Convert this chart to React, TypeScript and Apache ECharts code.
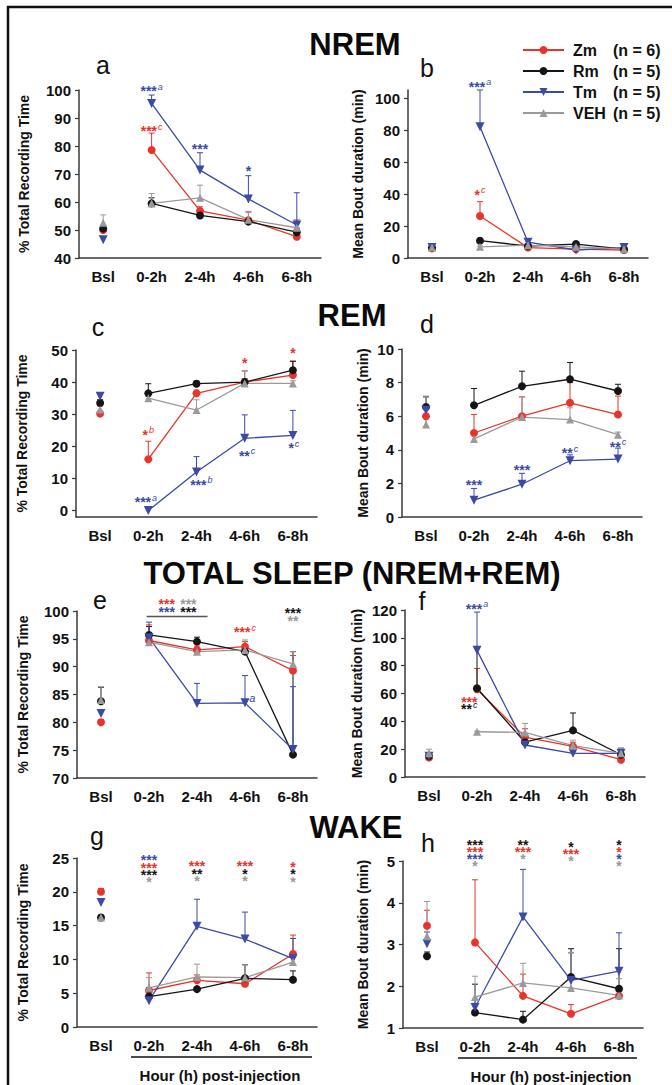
import React, { useEffect, useRef } from 'react';
import * as echarts from 'echarts';

const categories = ['Bsl', '0-2h', '2-4h', '4-6h', '6-8h'];
const groups = ['Zm', 'Rm', 'Tm', 'VEH'];
const groupN = ['(n = 6)', '(n = 5)', '(n = 5)', '(n = 5)'];

// rows: Zm, Rm, Tm, VEH ; columns: Bsl, 0-2h, 2-4h, 4-6h, 6-8h
// a: NREM % total recording time
const nremPctMeans = [
  [50, 78.6, 56.8, 53.5, 47.6],
  [50.5, 59.5, 55.2, 53, 49.2],
  [46.5, 95.2, 71.4, 61.1, 51.8],
  [52.6, 59.5, 61.5, 53.7, 50.8],
];
const nremPctSem = [
  [0.5, 6, 1.5, 3, 6],
  [1, 2, 1, 1, 1.5],
  [1, 3, 6.2, 8.3, 11.5],
  [2.8, 3.5, 4.5, 2.5, 1.5],
];
const nremPctTicks = [40, 50, 60, 70, 80, 90, 100];
// [category, offset (bands), value, stacked lines of [text, group, superscript]]
const nremPctMarks = [
  [1, 0, 100.7, [['***', 2, 'a']]],
  [1, 0, 86.4, [['***', 0, 'c']]],
  [2, 0, 80, [['***', 2, '']]],
  [3, 0, 72, [['*', 2, '']]],
];

// b: NREM mean bout duration
const nremBoutMeans = [
  [6, 26.2, 6.5, 5.5, 5],
  [6.5, 10.8, 7.5, 8.7, 5.5],
  [6.5, 82, 9.9, 5, 6.5],
  [6.5, 7, 8, 7, 5.5],
];
const nremBoutSem = [
  [0.5, 9, 1, 0.5, 0.5],
  [0.5, 1, 1, 1, 0.5],
  [0.5, 23, 1, 0.5, 0.5],
  [0.5, 0.5, 1, 0.5, 0.5],
];
const nremBoutTicks = [0, 20, 40, 60, 80, 100];
const nremBoutMarks = [
  [1, 0, 109, [['***', 2, 'a']]],
  [1, 0, 41.5, [['*', 0, 'c']]],
];

// c: REM % total recording time
const remPctMeans = [
  [30.2, 16, 36.5, 40, 42.2],
  [33.5, 36.5, 39.5, 40, 43.7],
  [35.6, 0, 12, 22.5, 23.4],
  [31.5, 35, 31.3, 39.6, 39.6],
];
const remPctSem = [
  [0.5, 5.6, 1, 3.5, 4.3],
  [1, 3, 0.8, 1, 2.8],
  [1, 0, 4.8, 7.3, 7.8],
  [1, 0.5, 3.2, 3.8, 0.8],
];
const remPctTicks = [0, 10, 20, 30, 40, 50];
const remPctMarks = [
  [1, 0, 24.5, [['*', 0, 'b']]],
  [1, -0.05, 3.5, [['***', 2, 'a']]],
  [2, 0.1, 9, [['***', 2, 'b']]],
  [3, 0.05, 18, [['**', 2, 'c']]],
  [4, 0.02, 20.3, [['*', 2, 'c']]],
  [3, 0, 47, [['*', 0, '']]],
  [4, 0, 50, [['*', 0, '']]],
];

// d: REM mean bout duration
const remBoutMeans = [
  [6.0, 5.0, 6.0, 6.8, 6.1],
  [6.55, 6.65, 7.78, 8.2, 7.5],
  [6.35, 1.0, 1.95, 3.35, 3.45],
  [5.5, 4.65, 5.95, 5.8, 4.9],
];
const remBoutSem = [
  [0.5, 1.1, 1.15, 1.2, 1.1],
  [0.6, 1.0, 0.9, 1.0, 0.4],
  [0.3, 0.7, 0.65, 0.35, 0.65],
  [1.7, 0.2, 1.2, 0.7, 0.15],
];
const remBoutTicks = [0, 2, 4, 6, 8, 10];
const remBoutMarks = [
  [1, 0, 2.1, [['***', 2, '']]],
  [2, 0, 2.95, [['***', 2, '']]],
  [3, 0, 3.97, [['**', 2, 'c']]],
  [4, 0, 4.36, [['**', 2, 'c']]],
];

// e: total sleep % total recording time
const sleepPctMeans = [
  [80, 94.7, 93, 93.6, 89.3],
  [83.8, 95.7, 94.5, 92.7, 74.2],
  [81.6, 95.2, 83.4, 83.5, 75.1],
  [84, 94.4, 92.7, 93, 90.5],
];
const sleepPctSem = [
  [0.5, 2.8, 0.7, 0.9, 2.7],
  [2.5, 1.5, 0.8, 1.0, 18.5],
  [0.5, 2.8, 3.6, 4.9, 11.3],
  [2.4, 1.5, 0.5, 1.8, 2.2],
];
const sleepPctTicks = [70, 75, 80, 85, 90, 95, 100];
const sleepPctMarks = [
  [1, 0.37, 101.8, [['***', 0, ''], ['***', 2, '']]],
  [1, 0.82, 101.8, [['***', 3, ''], ['***', 1, '']]],
  [3, 0, 96.7, [['***', 0, 'c']]],
  [4, 0, 100.2, [['***', 1, ''], ['**', 3, '']]],
  [3, 0.15, 85, [['', 2, 'a']]],
];
// [start category, start offset, end category, end offset, value]
const sleepPctBracket = [1, -0.05, 2, 0.22, 99];

// f: total sleep mean bout duration
const sleepBoutMeans = [
  [14, 63, 28.7, 22, 12.4],
  [15, 63.8, 25, 33.5, 16],
  [15, 91, 23, 17, 17],
  [17, 32.5, 32, 22.5, 17],
];
const sleepBoutSem = [
  [1, 15, 6, 3, 1.5],
  [2, 30, 3, 12.5, 4],
  [1, 27.5, 2, 2, 2],
  [3, 0.5, 6.5, 4, 4],
];
const sleepBoutTicks = [0, 20, 40, 60, 80, 100, 120];
const sleepBoutMarks = [
  [1, 0, 123, [['***', 2, 'a']]],
  [1, -0.16, 55.7, [['***', 0, ''], ['**', 1, 'c']]],
];

// g: wake % total recording time
const wakePctMeans = [
  [20, 5.4, 6.9, 6.4, 10.8],
  [16.2, 4.5, 5.6, 7.2, 7.0],
  [18.4, 3.9, 14.9, 13, 10.1],
  [16.2, 5.8, 7.4, 7.3, 9.6],
];
const wakePctSem = [
  [0.5, 2.6, 0.8, 0.5, 2.8],
  [0.3, 1.3, 0.3, 2, 1.3],
  [0.5, 0.5, 4, 4, 3],
  [0.4, 1.5, 1.9, 1.9, 1],
];
const wakePctTicks = [0, 5, 10, 15, 20, 25];
const wakePctMarks = [
  [1, 0, 25.1, [['***', 2, ''], ['***', 0, ''], ['***', 1, ''], ['*', 3, '']]],
  [2, 0, 24.2, [['***', 0, ''], ['**', 1, ''], ['*', 3, '']]],
  [3, 0, 24.2, [['***', 0, ''], ['*', 1, ''], ['*', 3, '']]],
  [4, 0, 24.1, [['*', 0, ''], ['*', 1, ''], ['*', 3, '']]],
];

// h: wake mean bout duration
const wakeBoutMeans = [
  [3.45, 3.05, 1.77, 1.34, 1.77],
  [2.72, 1.37, 1.2, 2.22, 1.94],
  [3.02, 1.49, 3.66, 2.14, 2.36],
  [3.2, 1.74, 2.08, 1.96, 1.78],
];
const wakeBoutSem = [
  [0.37, 1.5, 0.52, 0.22, 0.1],
  [0.1, 0.68, 0.2, 0.68, 0.96],
  [0.28, 0.1, 1.14, 0.66, 0.92],
  [0.83, 0.5, 0.47, 0.85, 0.4],
];
const wakeBoutTicks = [1, 2, 3, 4, 5];
const wakeBoutMarks = [
  [1, 0, 5.45, [['***', 1, ''], ['***', 0, ''], ['***', 2, ''], ['*', 3, '']]],
  [2, 0, 5.45, [['**', 1, ''], ['***', 0, ''], ['*', 3, '']]],
  [3, 0, 5.41, [['*', 1, ''], ['***', 0, ''], ['*', 3, '']]],
  [4, 0, 5.45, [['*', 1, ''], ['*', 0, ''], ['*', 2, ''], ['*', 3, '']]],
];

const sectionTitles = ['NREM', 'REM', 'TOTAL SLEEP (NREM+REM)', 'WAKE'];
const pctName = '% Total Recording Time';
const boutName = 'Mean Bout duration (min)';
const xAxisTitle = 'Hour (h) post-injection';

const FONT = '"Liberation Sans", Arial, Helvetica, sans-serif';
const colors = ['#e8342a', '#151515', '#3a4aa6', '#9a9a9a'];
const symbols = ['circle', 'circle', 'triangle', 'triangle'];
const symbolSizes = [8, 8, 9, 8];
const symbolRotates = [0, 0, 180, 0];

const panels = [
  { letter: 'a', means: nremPctMeans, sem: nremPctSem, ticks: nremPctTicks, marks: nremPctMarks, name: pctName, left: 79, top: 90, width: 242, height: 168, min: 40, max: 100, gap: 48, lx: 103, ly: 65, mgap: 10 },
  { letter: 'b', means: nremBoutMeans, sem: nremBoutSem, ticks: nremBoutTicks, marks: nremBoutMarks, name: boutName, left: 408, top: 90, width: 240, height: 168, min: 0, max: 105, gap: 43, lx: 427, ly: 68, mgap: 10 },
  { letter: 'c', means: remPctMeans, sem: remPctSem, ticks: remPctTicks, marks: remPctMarks, name: pctName, left: 76, top: 350, width: 241, height: 167, min: -2, max: 50, gap: 47, lx: 98, ly: 327, mgap: 10 },
  { letter: 'd', means: remBoutMeans, sem: remBoutSem, ticks: remBoutTicks, marks: remBoutMarks, name: boutName, left: 402, top: 349, width: 240, height: 168, min: 0, max: 10, gap: 32, lx: 427, ly: 324, mgap: 10 },
  { letter: 'e', means: sleepPctMeans, sem: sleepPctSem, ticks: sleepPctTicks, marks: sleepPctMarks, name: pctName, left: 77, top: 611, width: 240, height: 167, min: 70, max: 100, gap: 47, lx: 100, ly: 600, mgap: 8.5 },
  { letter: 'f', means: sleepBoutMeans, sem: sleepBoutSem, ticks: sleepBoutTicks, marks: sleepBoutMarks, name: boutName, left: 405, top: 610, width: 240, height: 167, min: 0, max: 120, gap: 41, lx: 422, ly: 601, mgap: 7 },
  { letter: 'g', means: wakePctMeans, sem: wakePctSem, ticks: wakePctTicks, marks: wakePctMarks, name: pctName, left: 77, top: 858, width: 240, height: 169, min: 0, max: 25, gap: 47, lx: 97, ly: 836, mgap: 7.3 },
  { letter: 'h', means: wakeBoutMeans, sem: wakeBoutSem, ticks: wakeBoutTicks, marks: wakeBoutMarks, name: boutName, left: 403, top: 861, width: 240, height: 167, min: 1, max: 5, gap: 33, lx: 428, ly: 843, mgap: 7 },
];

const titlePos = [[355, 44], [352, 315], [352, 573], [356, 827]];

function buildOption() {
  const grid: any[] = [];
  const xAxis: any[] = [];
  const yAxis: any[] = [];
  const series: any[] = [];
  const axisColor = '#3a3a3a';

  panels.forEach((p, i) => {
    grid.push({ left: p.left, top: p.top, width: p.width, height: p.height });
    xAxis.push({
      type: 'category', gridIndex: i, data: categories, boundaryGap: true,
      axisLine: { onZero: false, lineStyle: { color: axisColor, width: 1.5 } },
      axisTick: { alignWithLabel: true, length: 4, lineStyle: { color: axisColor, width: 1.2 } },
      axisLabel: { margin: 11, fontSize: 15, fontWeight: 'bold', color: '#111', fontFamily: FONT },
      splitLine: { show: false },
    });
    yAxis.push({
      type: 'value', gridIndex: i, min: p.min, max: p.max,
      axisLine: { show: true, lineStyle: { color: axisColor, width: 1.5 } },
      axisTick: { show: true, length: 4, customValues: p.ticks, lineStyle: { color: axisColor, width: 1.2 } },
      axisLabel: { customValues: p.ticks, margin: 8, fontSize: 15, fontWeight: 'bold', color: '#111', fontFamily: FONT },
      splitLine: { show: false },
      name: p.name, nameLocation: 'middle', nameGap: p.gap,
      nameTextStyle: { fontSize: 14, fontWeight: 'bold', color: '#111', fontFamily: FONT },
    });

    // error bars
    const errData: any[] = [];
    p.means.forEach((row, g) => {
      row.forEach((v, k) => {
        errData.push([k, v, v + p.sem[g][k], g]);
      });
    });
    series.push({
      type: 'custom', name: 'err' + i, xAxisIndex: i, yAxisIndex: i, z: 1,
      dimensions: ['x', 'y', 'top', 'g'], encode: { x: 0, y: [1, 2] },
      data: errData,
      renderItem: (params: any, api: any) => {
        const x = api.value(0); const m = api.value(1); const t = api.value(2); const g = api.value(3);
        const p1 = api.coord([x, m]); const p2 = api.coord([x, t]);
        const c = colors[g];
        if (Math.abs(p1[1] - p2[1]) < 0.5) return { type: 'group', children: [] };
        return {
          type: 'group', children: [
            { type: 'line', shape: { x1: p1[0], y1: p1[1], x2: p2[0], y2: p2[1] }, style: { stroke: c, lineWidth: 1 } },
            { type: 'line', shape: { x1: p2[0] - 3, y1: p2[1], x2: p2[0] + 3, y2: p2[1] }, style: { stroke: c, lineWidth: 1 } },
          ],
        };
      },
    });

    // lines and baseline points
    p.means.forEach((row, g) => {
      series.push({
        type: 'line', name: groups[g], xAxisIndex: i, yAxisIndex: i, z: 3,
        data: ['-', ...row.slice(1)],
        symbol: symbols[g], symbolSize: symbolSizes[g], symbolRotate: symbolRotates[g], showSymbol: true,
        lineStyle: { color: colors[g], width: 1.3 }, itemStyle: { color: colors[g] },
      });
      series.push({
        type: 'scatter', name: groups[g], xAxisIndex: i, yAxisIndex: i, z: 3,
        data: [[0, row[0]]],
        symbol: symbols[g], symbolSize: symbolSizes[g], symbolRotate: symbolRotates[g],
        itemStyle: { color: colors[g], opacity: 1 },
      });
    });

    // significance marks (one rich text block per stack)
    const marks: any[] = p.marks;
    const lh = p.mgap;
    const rich: any = {};
    colors.forEach((c, g) => {
      rich['s' + g] = { fontSize: 14, fontWeight: 'bold', fill: c, fontFamily: FONT, lineHeight: lh };
      rich['p' + g] = { fontSize: 9, fontStyle: 'italic', fill: c, fontFamily: FONT, lineHeight: lh, padding: [0, 0, 9, 1] };
      rich['q' + g] = { fontSize: 11, fontStyle: 'italic', fill: c, fontFamily: FONT, lineHeight: lh };
    });
    series.push({
      type: 'custom', name: 'marks' + i, xAxisIndex: i, yAxisIndex: i, z: 5, clip: false,
      dimensions: ['x', 'y'], encode: { x: 0, y: 1 },
      data: marks.map((m: any) => [m[0], m[2]]),
      renderItem: (params: any, api: any) => {
        const m: any = marks[params.dataIndex];
        const pt = api.coord([m[0], m[2]]);
        const bw = api.size([1, 0])[0];
        const text = m[3].map((ln: any) => {
          const [t, g, sup] = ln;
          if (!t) return `{q${g}|${sup}}`;
          return `{s${g}|${t}}` + (sup ? `{p${g}|${sup}}` : '');
        }).join('\n');
        return {
          type: 'text', x: pt[0] + m[1] * bw, y: pt[1] + 3 - lh / 2,
          style: { text, rich, align: 'center', verticalAlign: 'top' },
        };
      },
    });
  });

  // bracket in panel e
  series.push({
    type: 'custom', name: 'bracket', xAxisIndex: 4, yAxisIndex: 4, z: 5, clip: false,
    data: [[sleepPctBracket[0], sleepPctBracket[4]]],
    renderItem: (params: any, api: any) => {
      const a = api.coord([sleepPctBracket[0], sleepPctBracket[4]]);
      const b = api.coord([sleepPctBracket[2], sleepPctBracket[4]]);
      const bw = api.size([1, 0])[0];
      return {
        type: 'line',
        shape: { x1: a[0] + sleepPctBracket[1] * bw, y1: a[1], x2: b[0] + sleepPctBracket[3] * bw, y2: b[1] },
        style: { stroke: '#555', lineWidth: 1.5 },
      };
    },
  });

  const graphic: any[] = [
    { type: 'rect', shape: { x: 8, y: 7, width: 700, height: 1100 }, style: { fill: 'none', stroke: '#111', lineWidth: 2.5 }, silent: true },
  ];
  sectionTitles.forEach((t, i) => {
    graphic.push({
      type: 'text', x: titlePos[i][0], y: titlePos[i][1],
      style: { text: t, fontSize: 31, fontWeight: 'bold', fontFamily: FONT, fill: '#0a0a0a', align: 'center', verticalAlign: 'middle' },
    });
  });
  panels.forEach((p) => {
    graphic.push({
      type: 'text', x: p.lx, y: p.ly,
      style: { text: p.letter, fontSize: 25, fontFamily: FONT, fill: '#111', align: 'center', verticalAlign: 'middle' },
    });
  });
  const hourLabels = [
    { x1: 131, x2: 312, y: 1057, tx: 220, ty: 1075 },
    { x1: 458, x2: 637, y: 1058, tx: 551, ty: 1076 },
  ];
  hourLabels.forEach((h) => {
    graphic.push({ type: 'line', shape: { x1: h.x1, y1: h.y, x2: h.x2, y2: h.y }, style: { stroke: '#111', lineWidth: 1.5 } });
    graphic.push({
      type: 'text', x: h.tx, y: h.ty,
      style: { text: xAxisTitle, fontSize: 15, fontWeight: 'bold', fontFamily: FONT, fill: '#111', align: 'center', verticalAlign: 'middle' },
    });
  });

  const nMap: any = {};
  groups.forEach((g, i) => { nMap[g] = groupN[i]; });

  return {
    animation: false,
    backgroundColor: '#ffffff',
    textStyle: { fontFamily: FONT },
    grid, xAxis, yAxis, series, graphic,
    legend: {
      data: groups, orient: 'vertical', left: 517, top: 37,
      itemWidth: 41, itemHeight: 10, itemGap: 5, selectedMode: false,
      formatter: (name: string) => `{a|${name}}{b|${nMap[name]}}`,
      textStyle: {
        color: '#111', fontSize: 16, fontWeight: 'bold', fontFamily: FONT, padding: [0, 0, 0, 4],
        rich: {
          a: { width: 40, fontSize: 16, fontWeight: 'bold', lineHeight: 17, fontFamily: FONT, color: '#111' },
          b: { fontSize: 16, fontWeight: 'bold', lineHeight: 17, fontFamily: FONT, color: '#111' },
        },
      },
    },
  };
}

export default function App() {
  const ref = useRef<HTMLDivElement>(null);
  useEffect(() => {
    if (!ref.current) return;
    const chart = echarts.init(ref.current, undefined, { renderer: 'svg' });
    chart.setOption(buildOption() as any);
    return () => chart.dispose();
  }, []);
  return <div ref={ref} style={{ position: 'absolute', left: 0, top: 0, width: 672, height: 1085 }} />;
}
